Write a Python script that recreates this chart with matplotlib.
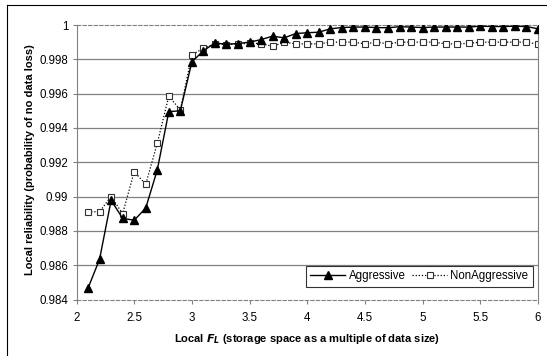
import matplotlib
matplotlib.use("Agg")
import matplotlib.pyplot as plt
from matplotlib.lines import Line2D

plt.rcParams['font.family'] = ['Liberation Sans', 'DejaVu Sans']

# storage space multiple (F_L)
fl = [2.1, 2.2, 2.3, 2.4, 2.5, 2.6, 2.7, 2.8, 2.9, 3.0,
      3.1, 3.2, 3.3, 3.4, 3.5, 3.6, 3.7, 3.8, 3.9, 4.0,
      4.1, 4.2, 4.3, 4.4, 4.5, 4.6, 4.7, 4.8, 4.9, 5.0,
      5.1, 5.2, 5.3, 5.4, 5.5, 5.6, 5.7, 5.8, 5.9, 6.0]

aggressive = [0.98466, 0.98635, 0.98978, 0.98873, 0.98862, 0.98933, 0.99155, 0.99495, 0.99500, 0.99785,
              0.99850, 0.99895, 0.99888, 0.99892, 0.99900, 0.99915, 0.99935, 0.99925, 0.99950, 0.99955,
              0.99958, 0.99978, 0.99985, 0.99988, 0.99988, 0.99985, 0.99984, 0.99990, 0.99988, 0.99985,
              0.99988, 0.99988, 0.99988, 0.99988, 0.99993, 0.99991, 0.99991, 0.99993, 0.99991, 0.99978]

non_aggressive = [0.98910, 0.98912, 0.99000, 0.98900, 0.99145, 0.99072, 0.99310, 0.99585, 0.99505, 0.99825,
                  0.99865, 0.99890, 0.99885, 0.99890, 0.99893, 0.99892, 0.99875, 0.99900, 0.99890, 0.99890,
                  0.99890, 0.99900, 0.99900, 0.99900, 0.99890, 0.99900, 0.99890, 0.99900, 0.99900, 0.99900,
                  0.99900, 0.99890, 0.99890, 0.99893, 0.99900, 0.99900, 0.99900, 0.99900, 0.99900, 0.99888]

x_ticks = [2, 2.5, 3, 3.5, 4, 4.5, 5, 5.5, 6]
x_labels = ['2', '2.5', '3', '3.5', '4', '4.5', '5', '5.5', '6']
y_ticks = [0.984, 0.986, 0.988, 0.99, 0.992, 0.994, 0.996, 0.998, 1.0]
y_labels = ['0.984', '0.986', '0.988', '0.99', '0.992', '0.994', '0.996', '0.998', '1']

fig = plt.figure(figsize=(5.47, 3.56), dpi=100)
ax = fig.add_axes([76.5 / 547, 1 - 299.5 / 356, 461.5 / 547, 274.5 / 356])

grey = '#808080'
for yt in y_ticks[1:-1]:
    ax.axhline(yt, color=grey, lw=0.9, zorder=1)

ax.plot(fl, aggressive, color='black', lw=1.0, marker='^', ms=5.3,
        mfc='black', mec='black', label='Aggressive', zorder=3)
ax.plot(fl, non_aggressive, color='black', lw=0.9, ls=(0, (1, 1.5)), marker='s', ms=4.3,
        mfc='white', mec='#333333', mew=0.8, label='NonAggressive', zorder=2)

ax.set_xlim(2, 6)
ax.set_ylim(0.984, 1.0)
ax.set_xticks(x_ticks)
ax.set_xticklabels(x_labels)
ax.set_yticks(y_ticks)
ax.set_yticklabels(y_labels)
ax.tick_params(axis='both', direction='out', length=3, width=0.8, color=grey, labelsize=8.3)
ax.tick_params(axis='x', pad=6)
ax.tick_params(axis='y', pad=3)

ax.spines['left'].set_color(grey)
ax.spines['right'].set_color(grey)
ax.spines['top'].set_color(grey)
ax.spines['top'].set_linestyle((0, (3, 2)))
ax.spines['bottom'].set_color(grey)
ax.spines['bottom'].set_linestyle((0, (3, 2)))
for s in ax.spines.values():
    s.set_linewidth(0.8)

ax.set_xlabel(r'Local $\mathbfit{F}_{\mathbfit{L}}$ (storage space as a multiple of data size)',
              fontsize=8, fontweight='bold', va='center')
ax.xaxis.set_label_coords(0.5, -0.144)
ax.set_ylabel('Local reliability (probability of no data loss)', fontsize=8, fontweight='bold', va='center')
ax.yaxis.set_label_coords(-0.1008, 0.51)

leg = ax.legend(loc='lower right', bbox_to_anchor=(0.989, 0.0455), borderaxespad=0, ncol=2,
                fontsize=8.3, frameon=True, fancybox=False, edgecolor='black', handlelength=3.0,
                columnspacing=0.6, handletextpad=0.3, borderpad=0.4)
leg.get_frame().set_linewidth(0.8)

# outer chart frame (only left and top edges visible)
fig.add_artist(Line2D([7 / 547, 7 / 547], [0, 1 - 5 / 356], color='black', lw=0.8))
fig.add_artist(Line2D([7 / 547, 1], [1 - 5 / 356, 1 - 5 / 356], color='black', lw=0.8))

fig.savefig('out.png', dpi=100)
